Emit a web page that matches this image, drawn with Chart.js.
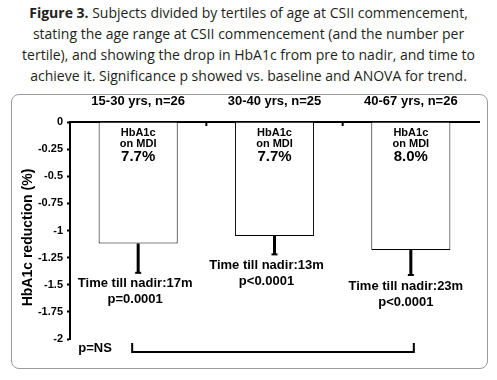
<!DOCTYPE html>
<html>
<head>
<meta charset="utf-8">
<script src="https://cdn.jsdelivr.net/npm/chart.js@4"></script>
<style>
  html, body { margin: 0; padding: 0; background: #fff; }
  #wrap { position: relative; width: 497px; height: 380px; overflow: hidden; }
  #caption { position: absolute; left: 0; top: 2px; width: 497px; text-align: center;
    font-family: "Open Sans", sans-serif; font-size: 14px; line-height: 21px; color: #231f20; }
  #frame { position: absolute; left: 11px; top: 94px; width: 475px; height: 273px;
    border: 1px solid #9a9a9a; border-radius: 8px; }
  #chart { position: absolute; left: 0; top: 0; }
</style>
</head>
<body>
<div id="wrap">
  <div id="caption"><b>Figure 3.</b> Subjects divided by tertiles of age at CSII commencement,<br>stating the age range at CSII commencement (and the number per<br>tertile), and showing the drop in HbA1c from pre to nadir, and time to<br>achieve it. Significance p showed vs. baseline and ANOVA for trend.</div>
  <div id="frame"></div>
  <canvas id="chart" width="497" height="380"></canvas>
</div>
<script>
const categories = ['15-30 yrs, n=26', '30-40 yrs, n=25', '40-67 yrs, n=26'];
const reduction = [-1.12, -1.05, -1.18];
const errorEnd = [-1.39, -1.22, -1.41];
const baselineHbA1c = ['7.7%', '7.7%', '8.0%'];
const nadirMonths = ['17m', '13m', '23m'];
const pValues = ['p=0.0001', 'p<0.0001', 'p<0.0001'];
const yTicks = [0, -0.25, -0.5, -0.75, -1, -1.25, -1.5, -1.75, -2];

const FONT = '"Liberation Sans", Arial, sans-serif';

const annotations = {
  id: 'annotations',
  afterDatasetsDraw(chart) {
    const { ctx, chartArea: area } = chart;
    const xs = chart.scales.x, ys = chart.scales.y;
    ctx.save();
    ctx.fillStyle = '#000';
    ctx.strokeStyle = '#000';
    ctx.textAlign = 'center';
    ctx.textBaseline = 'middle';

    // y axis title
    ctx.save();
    ctx.translate(28, (area.top + area.bottom) / 2 + 7);
    ctx.rotate(-Math.PI / 2);
    ctx.font = 'bold 14px ' + FONT;
    ctx.fillText('HbA1c reduction (%)', 0, 0);
    ctx.restore();

    // small inward ticks on the category axis
    ctx.lineWidth = 2;
    [0.5, 1.5].forEach(v => {
      const x = xs.getPixelForValue(v);
      ctx.beginPath(); ctx.moveTo(x, area.top); ctx.lineTo(x, area.top + 4); ctx.stroke();
    });

    categories.forEach((c, i) => {
      const x = xs.getPixelForValue(i);
      const y0 = ys.getPixelForValue(reduction[i]);
      const y1 = ys.getPixelForValue(errorEnd[i]);
      // one-sided error bar
      ctx.lineWidth = 3;
      ctx.beginPath(); ctx.moveTo(x, y0); ctx.lineTo(x, y1); ctx.stroke();
      ctx.lineWidth = 2;
      ctx.beginPath(); ctx.moveTo(x - 3, y1); ctx.lineTo(x + 3, y1); ctx.stroke();

      // baseline label inside bar
      ctx.font = 'bold 11px ' + FONT;
      ctx.fillText('HbA1c', x, area.top + 11);
      ctx.fillText('on MDI', x, area.top + 22);
      ctx.font = 'bold 15px ' + FONT;
      ctx.fillText(baselineHbA1c[i], x, area.top + 35);

      // time till nadir + p under the error bar
      ctx.font = 'bold 13px ' + FONT;
      const dx = i === 1 ? -8 : (i === 0 ? -3 : -5);
      ctx.fillText('Time till nadir:' + nadirMonths[i], x + dx, y1 + 11);
      ctx.fillText(pValues[i], x + dx, y1 + 27);
    });

    // ANOVA for trend bracket
    const bx0 = xs.getPixelForValue(0) - 6, bx1 = xs.getPixelForValue(2) + 3;
    const by = area.bottom + 13;
    ctx.lineWidth = 2;
    ctx.beginPath();
    ctx.moveTo(bx0, by - 9); ctx.lineTo(bx0, by); ctx.lineTo(bx1, by); ctx.lineTo(bx1, by - 9);
    ctx.stroke();
    ctx.font = 'bold 13px ' + FONT;
    ctx.fillText('p=NS', 95, area.bottom + 9);
    ctx.restore();
  }
};

new Chart(document.getElementById('chart'), {
  type: 'bar',
  data: {
    labels: categories,
    datasets: [{
      data: reduction,
      backgroundColor: '#fff',
      borderColor: '#000',
      borderWidth: 1,
      categoryPercentage: 1,
      barPercentage: 0.58
    }]
  },
  options: {
    responsive: false,
    animation: false,
    layout: { padding: { left: 0, right: 18, top: 0, bottom: 41 } },
    plugins: { legend: { display: false }, tooltip: { enabled: false } },
    scales: {
      x: {
        position: 'top',
        offset: true,
        grid: { display: false, drawOnChartArea: false },
        border: { display: true, color: '#000', width: 2 },
        ticks: { color: '#000', font: { family: FONT, size: 13, weight: 'bold' }, padding: 5 },
        afterFit(s) { s.height = 122; }
      },
      y: {
        min: -2, max: 0,
        afterBuildTicks(s) { s.ticks = yTicks.map(v => ({ value: v })); },
        grid: { drawOnChartArea: false, tickLength: 3, tickWidth: 2, color: '#000' },
        border: { display: true, color: '#000', width: 2 },
        ticks: {
          color: '#000', padding: 4,
          font: { family: FONT, size: 11, weight: 'bold' },
          callback: v => String(v)
        },
        afterFit(s) { s.width = 70; }
      }
    }
  },
  plugins: [annotations]
});
</script>
</body>
</html>
